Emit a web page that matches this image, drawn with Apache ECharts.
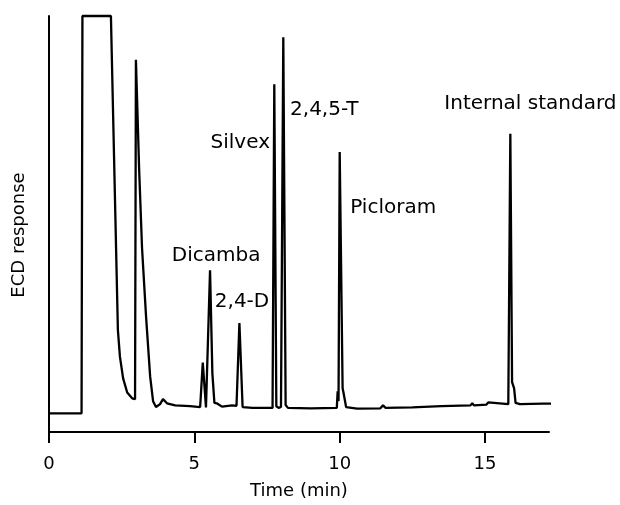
<!DOCTYPE html>
<html style="height: 100%">
<head>
    <meta charset="utf-8">
    <title>ECD chromatogram</title>
    <script src="https://cdn.jsdelivr.net/npm/echarts@6/dist/echarts.min.js"></script>
</head>
<body style="height: 100%; margin: 0; background: #fff">
    <div id="container" style="width: 620px; height: 505px"></div>
    <script type="text/javascript">

        // detector trace
        let timeMin = [
            0, 1.12, 1.15, 2.13, 2.37, 2.44, 2.55, 2.69, 2.86, 2.96,
            2.99, 3.03, 3.10, 3.20, 3.34, 3.48, 3.58, 3.68, 3.82, 3.92,
            4.06, 4.34, 4.85, 5.20, 5.29, 5.40, 5.43, 5.54, 5.62, 5.69,
            5.77, 5.95, 6.30, 6.45, 6.55, 6.66, 7.00, 7.69, 7.75, 7.82,
            7.90, 7.98, 8.06, 8.14, 8.22, 9.00, 9.90, 9.93, 9.96, 10.00,
            10.10, 10.13, 10.22, 10.6, 11.40, 11.49, 11.58, 12.5, 13.5, 14.5,
            14.56, 14.62, 15.05, 15.11, 15.17, 15.80, 15.87, 15.93, 16.00, 16.05,
            16.2, 17.0, 17.58
        ];
        let response = [
            4.5, 4.5, 100, 100, 24.5, 18.1, 12.9, 9.5, 8.1, 7.9,
            89.5, 80, 63.3, 44.3, 27.6, 13.3, 7.4, 6.0, 6.7, 7.9,
            6.9, 6.4, 6.2, 6.0, 16.7, 5.9, 6.0, 38.9, 14.1, 7.0,
            6.9, 6.1, 6.4, 6.3, 26.2, 6.0, 5.8, 5.8, 83.6, 6.2,
            5.8, 6.0, 94.9, 6.5, 5.8, 5.7, 5.8, 9.8, 7.4, 67.3,
            10.5, 9.5, 6.0, 5.6, 5.7, 6.4, 5.8, 5.9, 6.2, 6.4,
            6.9, 6.4, 6.6, 7.1, 6.7, 6.7, 71.7, 12, 10.5, 7,
            6.7, 6.8, 6.8
        ];

        // peak names and where their captions sit (time, response)
        let peakNames = ['Dicamba', '2,4-D', 'Silvex', '2,4,5-T', 'Picloram', 'Internal standard'];
        let labelTime = [5.75, 6.64, 6.58, 9.47, 11.84, 16.56];
        let labelResp = [42.4, 31.2, 69.5, 77.4, 53.8, 79.0];

        let xTicks = [0, 5, 10, 15];

        let trace = timeMin.map((t, i) => [t, response[i]]);
        let captions = peakNames.map((n, i) => ({ value: [labelTime[i], labelResp[i]], name: n }));

        let font = 'DejaVu Sans';

        let chart = echarts.init(document.getElementById('container'));
        chart.setOption({
            animation: false,
            grid: { left: 49, right: 71, top: 16, bottom: 69, containLabel: false },
            xAxis: {
                type: 'value',
                min: 0,
                max: 17.2,
                interval: 5,
                name: 'Time (min)',
                nameLocation: 'middle',
                nameGap: 50,
                nameTextStyle: { color: '#000', fontSize: 18, fontFamily: font },
                axisLine: { lineStyle: { color: '#000', width: 2 } },
                axisTick: { show: true, length: 11, customValues: xTicks, lineStyle: { color: '#000', width: 2 } },
                axisLabel: { customValues: xTicks, margin: 23, color: '#000', fontSize: 18, fontFamily: font },
                splitLine: { show: false }
            },
            yAxis: {
                type: 'value',
                min: 0,
                max: 100,
                name: 'ECD response',
                nameLocation: 'middle',
                nameRotate: 90,
                nameGap: 21,
                nameTextStyle: { color: '#000', fontSize: 18, fontFamily: font, padding: [0, 22, 0, 0] },
                axisLine: { show: true, lineStyle: { color: '#000', width: 2 } },
                axisTick: { show: false },
                axisLabel: { show: false },
                splitLine: { show: false }
            },
            series: [
                {
                    type: 'line',
                    data: trace,
                    showSymbol: false,
                    clip: false,
                    lineStyle: { color: '#000', width: 2.3 },
                    z: 3
                },
                {
                    type: 'scatter',
                    data: captions,
                    symbolSize: 0,
                    silent: true,
                    itemStyle: { opacity: 1 },
                    label: {
                        show: true,
                        position: 'inside',
                        formatter: '{b}',
                        color: '#000',
                        opacity: 1,
                        fontSize: 20,
                        fontFamily: font
                    }
                }
            ]
        });

    </script>
</body>
</html>
